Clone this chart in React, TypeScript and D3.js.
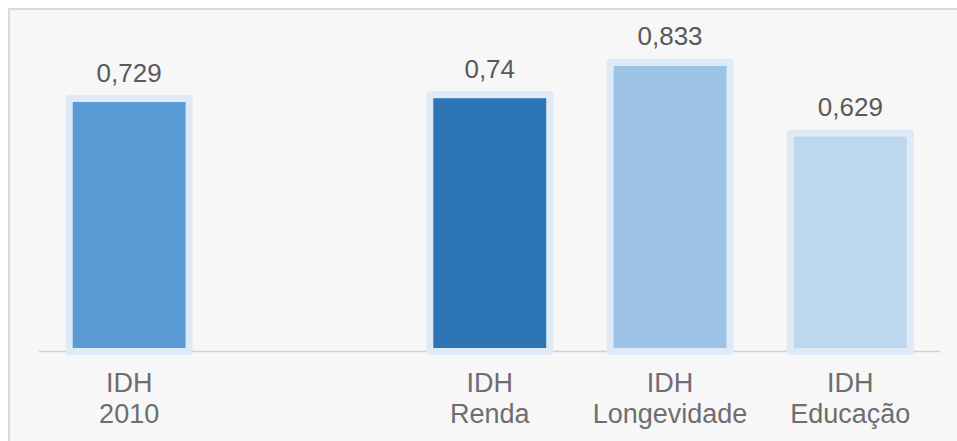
import React from "react";
import * as d3 from "d3";

const categories = ["IDH 2010", "", "IDH Renda", "IDH Longevidade", "IDH Educação"];
const labelLines = [["IDH", "2010"], [], ["IDH", "Renda"], ["IDH", "Longevidade"], ["IDH", "Educação"]];
const values: (number | null)[] = [0.729, null, 0.74, 0.833, 0.629];
const valueLabels = ["0,729", "", "0,74", "0,833", "0,629"];
const colors = ["#5b9bd5", "none", "#2e75b6", "#9dc3e6", "#bdd7ee"];

const W = 957;
const H = 441;
const HALO = "#deeaf6";
const STROKE = 7;

export default function App() {
  const x = d3
    .scaleBand<string>()
    .domain(categories.map((c, i) => String(i)))
    .range([39, 940.5])
    .paddingInner(0.335)
    .paddingOuter(0.1675);
  const y = d3.scaleLinear().domain([0, 1]).range([351.5, 4.5]);
  const bw = x.bandwidth();
  const font = "'Liberation Sans', Arial, sans-serif";

  return (
    <svg
      width={W}
      height={H}
      style={{ position: "absolute", left: 0, top: 0, display: "block" }}
    >
      <rect x={0} y={0} width={W} height={H} fill="#ffffff" />
      <rect x={9} y={9} width={W} height={H} fill="#f7f7f7" stroke="#d9d9d9" strokeWidth={2} />
      <line x1={39} x2={940.5} y1={y(0)} y2={y(0)} stroke="#d0d0d0" strokeWidth={1.5} />
      {categories.map((c, i) => {
        const v = values[i];
        const bx = x(String(i))!;
        const cx = bx + bw / 2;
        return (
          <g key={i}>
            {v !== null && (
              <>
                <rect
                  x={bx - STROKE / 2}
                  y={y(v) - STROKE / 2}
                  width={bw + STROKE}
                  height={y(0) - y(v) + STROKE}
                  rx={3}
                  fill={HALO}
                />
                <rect
                  x={bx + STROKE / 2}
                  y={y(v) + STROKE / 2}
                  width={bw - STROKE}
                  height={y(0) - y(v) - STROKE}
                  fill={colors[i]}
                />
                <text
                  x={cx}
                  y={y(v) - 17}
                  textAnchor="middle"
                  fontFamily={font}
                  fontSize={26}
                  fill="#595959"
                >
                  {valueLabels[i]}
                </text>
              </>
            )}
            {labelLines[i].map((line, j) => (
              <text
                key={j}
                x={cx}
                y={392 + j * 30.6}
                textAnchor="middle"
                fontFamily={font}
                fontSize={27}
                fill="#6e6e6e"
              >
                {line}
              </text>
            ))}
          </g>
        );
      })}
    </svg>
  );
}
